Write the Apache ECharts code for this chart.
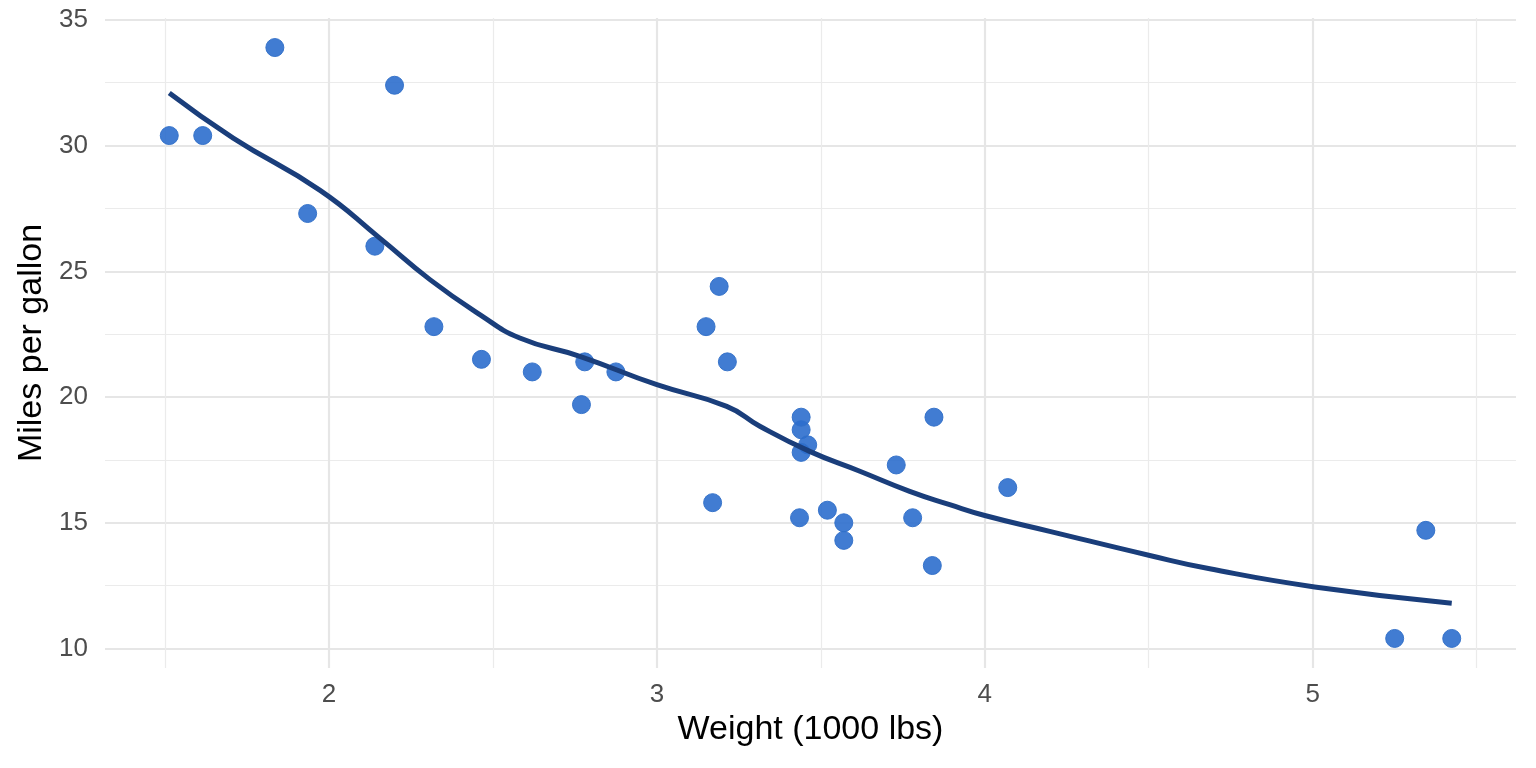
<!DOCTYPE html>
<html>
<head>
<meta charset="utf-8">
<script src="https://cdn.jsdelivr.net/npm/echarts@6/dist/echarts.min.js"></script>
<style>
html,body{margin:0;padding:0;background:#fff;}
#chart{width:1536px;height:768px;}
</style>
</head>
<body>
<div id="chart"></div>
<script>
// Car weight (1000 lbs) and fuel economy (mpg)
const weight = [2.620, 2.875, 2.320, 3.215, 3.440, 3.460, 3.570, 3.190, 3.150, 3.440, 3.440, 4.070, 3.730, 3.780, 5.250, 5.424, 5.345, 2.200, 1.615, 1.835, 2.465, 3.520, 3.435, 3.840, 3.845, 1.935, 2.140, 1.513, 3.170, 2.770, 3.570, 2.780];
const mpg = [21.0, 21.0, 22.8, 21.4, 18.7, 18.1, 14.3, 24.4, 22.8, 19.2, 17.8, 16.4, 17.3, 15.2, 10.4, 10.4, 14.7, 32.4, 30.4, 33.9, 21.5, 15.5, 15.2, 13.3, 19.2, 27.3, 26.0, 30.4, 15.8, 19.7, 15.0, 21.4];

// Smoothed trend
const trendX = [1.513, 1.708, 1.973, 2.155, 2.308, 2.460, 2.582, 2.765, 3.000, 3.213, 3.314, 3.466, 3.619, 3.771, 3.893, 4.000, 4.198, 4.503, 4.686, 5.006, 5.424];
const trendY = [32.09, 30.30, 28.22, 26.32, 24.67, 23.28, 22.35, 21.62, 20.49, 19.63, 18.84, 17.84, 17.05, 16.25, 15.72, 15.29, 14.66, 13.70, 13.17, 12.45, 11.80];

const xTitle = 'Weight (1000 lbs)';
const yTitle = 'Miles per gallon';
const xRange = [1.317, 5.62];
const yRange = [9.225, 35.075];

const pts = weight.map((w, i) => [w, mpg[i]]);
const trend = trendX.map((x, i) => [x, trendY[i]]);

const chart = echarts.init(document.getElementById('chart'), null, {renderer: 'canvas'});
const FONT = '"Liberation Sans", Arial, sans-serif';

const gridLine = {show: true, showMinLine: false, showMaxLine: false, lineStyle: {color: '#E6E6E6', width: 2.2}};
const minorLine = {show: true, lineStyle: {color: '#EBEBEB', width: 1.2}};

chart.setOption({
  animation: false,
  backgroundColor: '#ffffff',
  grid: {left: 105, right: 20, top: 18, bottom: 100, containLabel: false},
  xAxis: {
    type: 'value',
    min: xRange[0], max: xRange[1], splitNumber: 5,
    axisLine: {show: false}, axisTick: {show: false},
    minorTick: {show: false, splitNumber: 2},
    splitLine: gridLine,
    minorSplitLine: minorLine,
    axisLabel: {show: true, showMinLabel: false, showMaxLabel: false, color: '#4D4D4D', fontSize: 26, fontFamily: FONT, margin: 14},
    name: xTitle, nameLocation: 'middle', nameGap: 41,
    nameTextStyle: {color: '#000', fontSize: 34, fontFamily: FONT}
  },
  yAxis: {
    type: 'value',
    min: yRange[0], max: yRange[1], splitNumber: 5,
    axisLine: {show: false}, axisTick: {show: false},
    minorTick: {show: false, splitNumber: 2},
    splitLine: gridLine,
    minorSplitLine: minorLine,
    axisLabel: {show: true, showMinLabel: false, showMaxLabel: false, color: '#4D4D4D', fontSize: 26, fontFamily: FONT, margin: 17},
    name: yTitle, nameLocation: 'middle', nameGap: 54, nameRotate: 90,
    nameTextStyle: {color: '#000', fontSize: 34, fontFamily: FONT}
  },
  series: [
    {
      type: 'scatter', data: pts, symbol: 'circle', symbolSize: 18,
      itemStyle: {color: 'rgba(44,110,205,0.9)', borderColor: 'rgba(50,112,200,0.95)', borderWidth: 1, opacity: 1},
      z: 2
    },
    {
      type: 'line', data: trend, smooth: 0.5, showSymbol: false, symbol: 'none',
      lineStyle: {color: '#1A3E7B', width: 5}, z: 3
    }
  ]
});
</script>
</body>
</html>
